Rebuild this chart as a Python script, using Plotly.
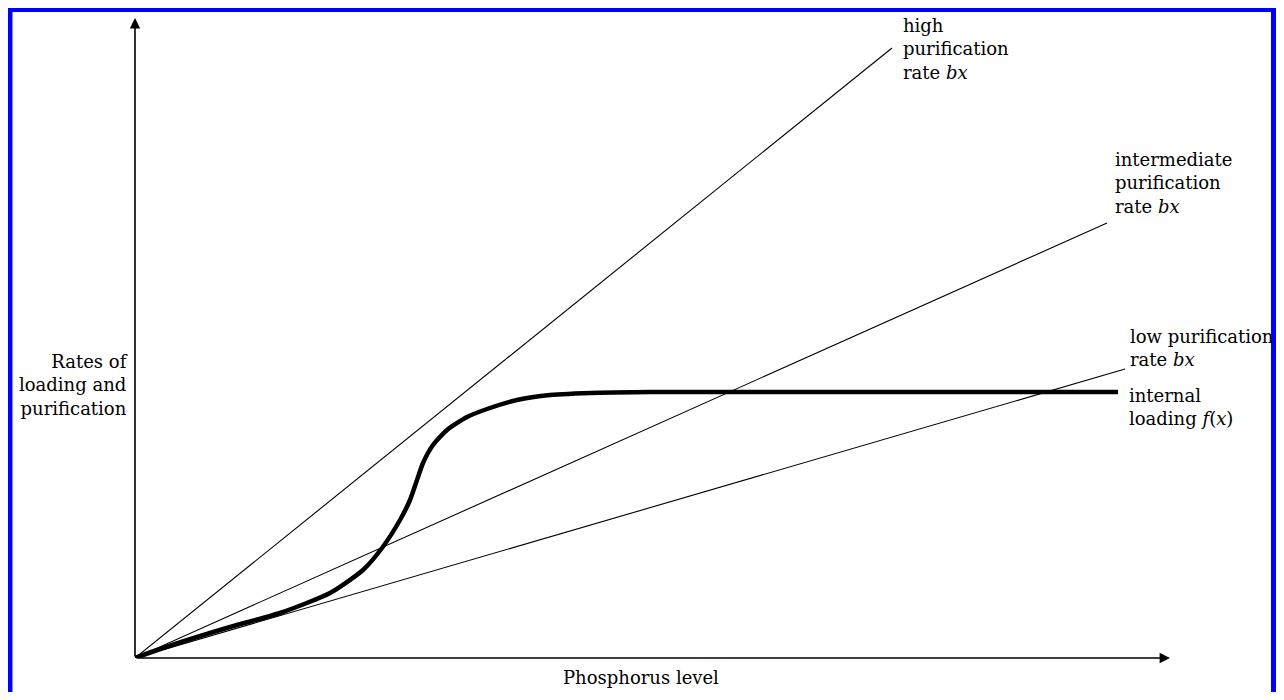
import plotly.graph_objects as go

# Purification lines b*x (endpoints)
high_x = [0, 7.57]
high_y = [0, 6.10]
mid_x = [0, 9.72]
mid_y = [0, 4.35]
low_x = [0, 9.90]
low_y = [0, 2.89]

# Internal loading f(x) (sigmoid-like curve)
fx_x = [0, 0.28, 0.95, 1.45, 1.95, 2.28, 2.47, 2.65, 2.75, 2.82, 2.88, 2.98, 3.12, 3.32, 3.52,
        3.82, 4.15, 4.65, 5.15, 9.83]
fx_y = [0, 0.10, 0.31, 0.45, 0.65, 0.88, 1.10, 1.38, 1.58, 1.78, 1.95, 2.13, 2.28, 2.41, 2.49,
        2.58, 2.63, 2.653, 2.66, 2.66]

x_range = [0, 10.35]
y_range = [0, 6.40]

FONT = "DejaVu Serif"
FS = 18

fig = go.Figure()
for xs, ys in [(high_x, high_y), (mid_x, mid_y), (low_x, low_y)]:
    fig.add_trace(go.Scatter(x=xs, y=ys, mode="lines",
                             line=dict(color="black", width=1.1),
                             hoverinfo="skip", showlegend=False))
fig.add_trace(go.Scatter(x=fx_x, y=fx_y, mode="lines",
                         line=dict(color="black", width=4.5, shape="spline", smoothing=0.6),
                         hoverinfo="skip", showlegend=False))

annotations = [
    # axes with arrows
    dict(x=0, y=y_range[1], ax=0, ay=0, xref="x", yref="y", axref="x", ayref="y",
         showarrow=True, arrowhead=2, arrowsize=1.3, arrowwidth=1.6, arrowcolor="black", text=""),
    dict(x=x_range[1], y=0, ax=0, ay=0, xref="x", yref="y", axref="x", ayref="y",
         showarrow=True, arrowhead=2, arrowsize=1.3, arrowwidth=1.6, arrowcolor="black", text=""),
    # labels
    dict(x=7.66, y=6.09, xref="x", yref="y", text="high<br>purification<br>rate <i>bx</i>",
         xanchor="left", yanchor="middle", align="left"),
    dict(x=9.78, y=4.75, xref="x", yref="y", text="intermediate<br>purification<br>rate <i>bx</i>",
         xanchor="left", yanchor="middle", align="left"),
    dict(x=9.93, y=3.105, xref="x", yref="y", text="low purification<br>rate <i>bx</i>",
         xanchor="left", yanchor="middle", align="left"),
    dict(x=9.92, y=2.515, xref="x", yref="y", text="internal<br>loading <i>f</i>(<i>x</i>)",
         xanchor="left", yanchor="middle", align="left"),
    dict(x=-0.0048, y=0.4266, xref="paper", yref="paper",
         text="Rates of<br>loading and<br>purification",
         xanchor="right", yanchor="middle", align="right"),
    dict(x=0.489, y=-0.0297, xref="paper", yref="paper", text="Phosphorus level",
         xanchor="center", yanchor="middle", align="center"),
]
for a in annotations:
    if a.get("text"):
        a.update(showarrow=False, font=dict(family=FONT, size=FS, color="black"))
    fig.add_annotation(**a)

# blue frame around the whole figure
fig.add_shape(type="rect", xref="paper", yref="paper",
              x0=-0.1208, x1=1.1000, y0=-0.075, y1=1.0133,
              line=dict(color="#0000FF", width=5), fillcolor="rgba(0,0,0,0)")

fig.update_xaxes(range=x_range, showgrid=False, zeroline=False, showticklabels=False,
                 ticks="", showline=False)
fig.update_yaxes(range=y_range, showgrid=False, zeroline=False, showticklabels=False,
                 ticks="", showline=False)
fig.update_layout(width=1268, height=684, margin=dict(l=127, r=106, t=10, b=34),
                  paper_bgcolor="white", plot_bgcolor="white", showlegend=False)

fig.write_html("out.html")
